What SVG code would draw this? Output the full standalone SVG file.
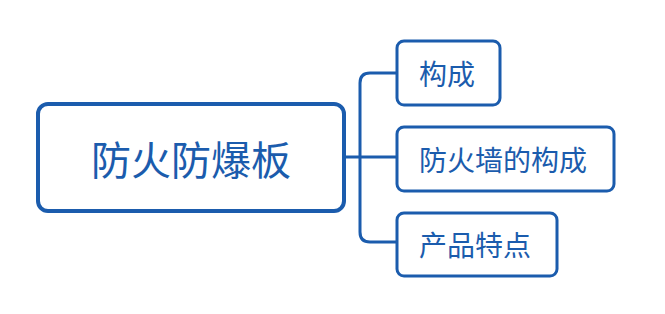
<svg xmlns="http://www.w3.org/2000/svg" width="665" height="314" viewBox="0 0 665 314">
<style>
.box{fill:#fff;stroke:#1b5cad;}
.main{stroke-width:4;}
.sub{stroke-width:3;}
.lbl{font-family:"Noto Sans CJK SC","Noto Sans",sans-serif;fill:#1b5cad;dominant-baseline:central;}
.conn{fill:none;stroke:#1b5cad;stroke-width:3;}
</style>
<rect width="665" height="314" fill="#fff"/>
<g id="connectors">
<path class="conn" d="M345 157 H396"/>
<path class="conn" d="M396 73 H370 Q360 73 360 83 V232 Q360 242 370 242 H396"/>
</g>
<g id="node-main">
<rect class="box main" x="38" y="104" width="306" height="107" rx="10"/>
<text class="lbl" x="191" y="158" font-size="40" text-anchor="middle">防火防爆板</text>
</g>
<g id="node-1">
<rect class="box sub" x="397" y="41" width="103" height="64" rx="7"/>
<text class="lbl" x="419" y="73" font-size="28">构成</text>
</g>
<g id="node-2">
<rect class="box sub" x="397" y="127" width="217" height="64" rx="7"/>
<text class="lbl" x="419" y="159" font-size="28">防火墙的构成</text>
</g>
<g id="node-3">
<rect class="box sub" x="397" y="213" width="160" height="63" rx="7"/>
<text class="lbl" x="419" y="244" font-size="28">产品特点</text>
</g>
</svg>
